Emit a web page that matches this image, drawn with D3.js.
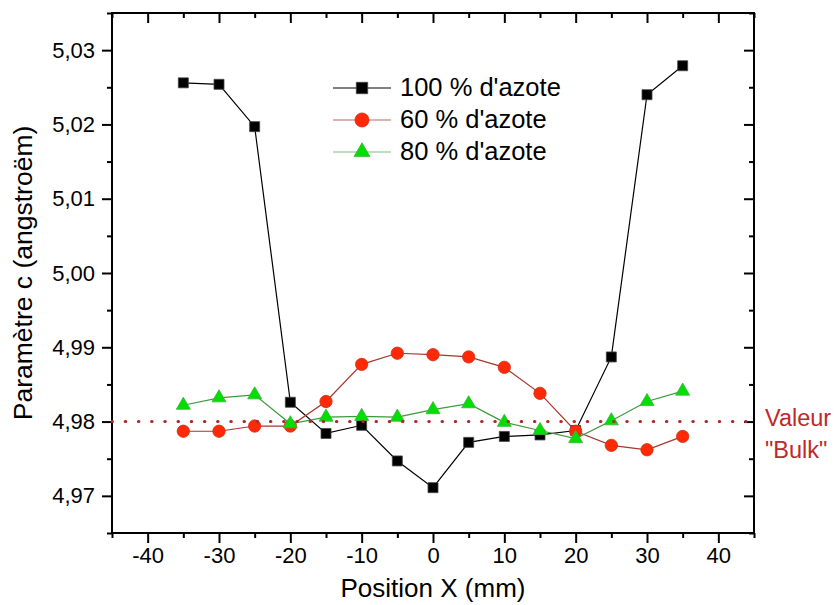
<!DOCTYPE html>
<html>
<head>
<meta charset="utf-8">
<script src="https://cdn.jsdelivr.net/npm/d3@7"></script>
<style>
  body { margin: 0; background: #fff; }
  text { font-family: "Liberation Sans", Arial, sans-serif; }
</style>
</head>
<body>
<script>
// data
var positions = [-35, -30, -25, -20, -15, -10, -5, 0, 5, 10, 15, 20, 25, 30, 35];
var azote100 = [5.0256, 5.0254, 5.0197, 4.9826, 4.9784, 4.9795, 4.9747, 4.9711, 4.9772, 4.9780, 4.9782, 4.9788, 4.9887, 5.0240, 5.0279];
var azote60 = [4.9787, 4.9787, 4.9794, 4.9794, 4.9827, 4.9877, 4.9892, 4.9890, 4.9887, 4.9873, 4.9838, 4.9787, 4.9768, 4.9762, 4.9780];
var azote80 = [4.9822, 4.9832, 4.9836, 4.9797, 4.9806, 4.9807, 4.9806, 4.9816, 4.9824, 4.9799, 4.9788, 4.9777, 4.9801, 4.9827, 4.9841];
var seriesNames = ["100 % d'azote", "60 % d'azote", "80 % d'azote"];
var bulkValue = 4.98;
var xTicks = [-40, -30, -20, -10, 0, 10, 20, 30, 40];
var xMinor = [-45, -35, -25, -15, -5, 5, 15, 25, 35, 45];
var yTicks = [4.97, 4.98, 4.99, 5.00, 5.01, 5.02, 5.03];
var yMinor = [4.965, 4.975, 4.985, 4.995, 5.005, 5.015, 5.025, 5.035];

var width = 839;
var height = 605;
var margin = {top: 13, right: 85, bottom: 72, left: 112};
var innerWidth = width - margin.left - margin.right;
var innerHeight = height - margin.top - margin.bottom;

//Canvas
var svg = d3.select("body")
  .append("svg")
    .attr("width", width)
    .attr("height", height);

var g = svg.append("g")
    .attr("transform", "translate(" + margin.left + ", " + margin.top + ")");

//Scales
var x = d3.scaleLinear()
    .domain([-45, 45])
    .range([0, innerWidth]);

var y = d3.scaleLinear()
    .domain([4.965, 5.035])
    .range([innerHeight, 0]);

var fmtY = function(d) { return d3.format(".2f")(d).replace(".", ","); };
var fmtX = function(d) { return String(d); };   // plain hyphen minus, like the original

//Axes
function styleAxis(sel) {
  sel.select(".domain").remove();
  sel.selectAll("line").attr("stroke", "#000").attr("stroke-width", 2);
  sel.selectAll("text")
    .attr("fill", "#000")
    .style("font-size", "22px")
    .style("font-family", "'Liberation Sans', Arial, sans-serif");
}
function ticksOnly(sel) {
  styleAxis(sel);
  sel.selectAll("text").remove();
}

g.append("g")
    .attr("transform", "translate(0, " + innerHeight + ")")
    .call(d3.axisBottom(x).tickValues(xTicks).tickSize(10).tickPadding(4).tickFormat(fmtX))
    .call(styleAxis);
g.append("g")
    .attr("transform", "translate(0, " + innerHeight + ")")
    .call(d3.axisBottom(x).tickValues(xMinor).tickSize(5))
    .call(ticksOnly);

g.append("g")
    .call(d3.axisTop(x).tickValues(xTicks).tickSize(-10))
    .call(ticksOnly);
g.append("g")
    .call(d3.axisTop(x).tickValues(xMinor).tickSize(-5))
    .call(ticksOnly);

g.append("g")
    .call(d3.axisLeft(y).tickValues(yTicks).tickSize(10).tickPadding(7).tickFormat(fmtY))
    .call(styleAxis);
g.append("g")
    .call(d3.axisLeft(y).tickValues(yMinor).tickSize(5))
    .call(ticksOnly);

g.append("g")
    .attr("transform", "translate(" + innerWidth + ", 0)")
    .call(d3.axisRight(y).tickValues(yTicks).tickSize(-10))
    .call(ticksOnly);
g.append("g")
    .attr("transform", "translate(" + innerWidth + ", 0)")
    .call(d3.axisRight(y).tickValues(yMinor).tickSize(-5))
    .call(ticksOnly);

// frame
g.append("rect")
    .attr("width", innerWidth)
    .attr("height", innerHeight)
    .attr("fill", "none")
    .attr("stroke", "#000")
    .attr("stroke-width", 2);

//Labels
g.append("text")
    .attr("x", innerWidth / 2)
    .attr("y", innerHeight + 64)
    .attr("text-anchor", "middle")
    .style("font-size", "26px")
    .text("Position X (mm)");

g.append("text")
    .attr("transform", "rotate(-90)")
    .attr("x", -(innerHeight / 2))
    .attr("y", -80)
    .attr("text-anchor", "middle")
    .style("font-size", "26.5px")
    .text("Paramètre c (angstroëm)");

//Series
var series = [
  {name: seriesNames[0], values: azote100, line: "#000", legendLine: "#000", fill: "#000", stroke: "#444", symbol: d3.symbolSquare, size: 100},
  {name: seriesNames[1], values: azote60, line: "#a8352c", legendLine: "#b86a5e", fill: "#ff2a05", stroke: "#c8321a", symbol: d3.symbolCircle, size: 120},
  {name: seriesNames[2], values: azote80, line: "#3c9a3c", legendLine: "#7cbf7c", fill: "#00e000", stroke: "#40b040", symbol: d3.symbolTriangle, size: 85}
];

var line = d3.line()
    .x(function(d) { return x(d.x); })
    .y(function(d) { return y(d.y); });

series.forEach(function(s) {
  var pts = positions.map(function(p, i) { return {x: p, y: s.values[i]}; });

  g.append("path")
      .datum(pts)
      .attr("fill", "none")
      .attr("stroke", s.line)
      .attr("stroke-width", 1.2)
      .attr("d", line);

  g.selectAll(null)
    .data(pts)
    .enter()
    .append("path")
      .attr("transform", function(d) { return "translate(" + x(d.x) + "," + y(d.y) + ")"; })
      .attr("d", d3.symbol().type(s.symbol).size(s.size))
      .attr("fill", s.fill)
      .attr("stroke", s.stroke)
      .attr("stroke-width", 0.8);
});

// bulk reference
g.append("line")
    .attr("x1", 0)
    .attr("x2", innerWidth)
    .attr("y1", y(bulkValue))
    .attr("y2", y(bulkValue))
    .attr("stroke", "#b0282a")
    .attr("stroke-width", 3)
    .attr("stroke-linecap", "round")
    .attr("stroke-dasharray", "0.5 12.7");

svg.append("text")
    .attr("x", 765)
    .attr("y", margin.top + y(bulkValue) + 4)
    .attr("fill", "#c0282a")
    .style("font-size", "23.5px")
    .text("Valeur");
svg.append("text")
    .attr("x", 765)
    .attr("y", margin.top + y(bulkValue) + 36)
    .attr("fill", "#c0282a")
    .style("font-size", "23.5px")
    .text("\"Bulk\"");

//Legend
var legend = svg.append("g")
    .attr("transform", "translate(333, 88)");

series.forEach(function(s, i) {
  var row = legend.append("g").attr("transform", "translate(0, " + (i * 32) + ")");
  row.append("line")
      .attr("x1", 0).attr("x2", 58)
      .attr("stroke", s.legendLine)
      .attr("stroke-width", 1.2);
  row.append("path")
      .attr("transform", "translate(29, 0)")
      .attr("d", d3.symbol().type(s.symbol).size(s.size * 1.3))
      .attr("fill", s.fill)
      .attr("stroke", s.stroke)
      .attr("stroke-width", 0.8);
  row.append("text")
      .attr("x", 67)
      .attr("y", 8)
      .style("font-size", "25.5px")
      .text(s.name);
});
</script>
</body>
</html>
